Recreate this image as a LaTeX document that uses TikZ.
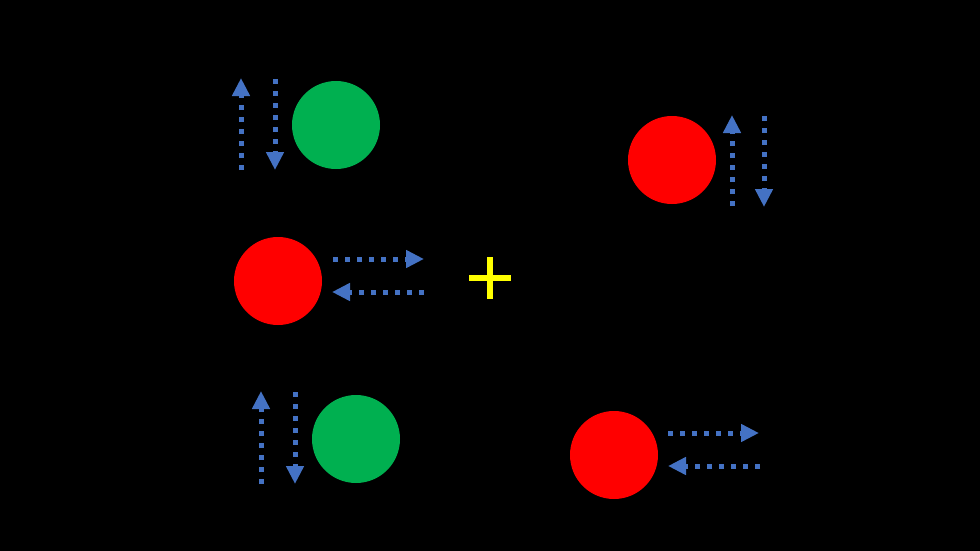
\documentclass[tikz,border=0pt]{standalone}
\usetikzlibrary{arrows.meta}
\definecolor{ballgreen}{HTML}{00B050}
\definecolor{ballred}{HTML}{FF0000}
\definecolor{arrowblue}{HTML}{4472C4}
\definecolor{plusyellow}{HTML}{FFFF00}
\tikzset{
  ball/.style={circle, minimum size=88pt, inner sep=0pt, draw=none},
  greenball/.style={ball, fill=ballgreen},
  redball/.style={ball, fill=ballred},
  dotarrow/.style={draw=arrowblue, line width=5pt, dash pattern=on 5pt off 7pt,
    -{Triangle[width=17pt,length=18pt,fill=arrowblue]}},
  plusbar/.style={draw=plusyellow, line width=6.5pt}
}
\begin{document}
\begin{tikzpicture}[x=1pt,y=-1pt]
\fill[black] (0,0) rectangle (980,551);
\useasboundingbox (0,0) rectangle (980,551);
% balls
\node[greenball] (g1) at (336,125) {};
\node[redball]   (r1) at (278,281) {};
\node[greenball] (g2) at (356,439) {};
\node[redball]   (r2) at (672,160) {};
\node[redball]   (r3) at (614,455) {};
% arrow end points
\coordinate (a1s) at (241,170); \coordinate (a1e) at (241,78);
\coordinate (a2s) at (275,79);  \coordinate (a2e) at (275,170);
\coordinate (b1s) at (333,259); \coordinate (b1e) at (424,259);
\coordinate (b2s) at (424,292); \coordinate (b2e) at (332,292);
\coordinate (c1s) at (261,484); \coordinate (c1e) at (261,391);
\coordinate (c2s) at (295,392); \coordinate (c2e) at (295,484);
\coordinate (d1s) at (732,206); \coordinate (d1e) at (732,115);
\coordinate (d2s) at (764,116); \coordinate (d2e) at (764,207);
\coordinate (e1s) at (668,433); \coordinate (e1e) at (759,433);
\coordinate (e2s) at (760,466); \coordinate (e2e) at (668,466);
\draw[dotarrow] (a1s) -- (a1e);
\draw[dotarrow] (a2s) -- (a2e);
\draw[dotarrow] (b1s) -- (b1e);
\draw[dotarrow] (b2s) -- (b2e);
\draw[dotarrow] (c1s) -- (c1e);
\draw[dotarrow] (c2s) -- (c2e);
\draw[dotarrow] (d1s) -- (d1e);
\draw[dotarrow] (d2s) -- (d2e);
\draw[dotarrow] (e1s) -- (e1e);
\draw[dotarrow] (e2s) -- (e2e);
% plus sign
\coordinate (pl) at (469,278); \coordinate (pr) at (511,278);
\coordinate (pt) at (490,257); \coordinate (pb) at (490,299);
\draw[plusbar] (pl) -- (pr);
\draw[plusbar] (pt) -- (pb);
\end{tikzpicture}
\end{document}
